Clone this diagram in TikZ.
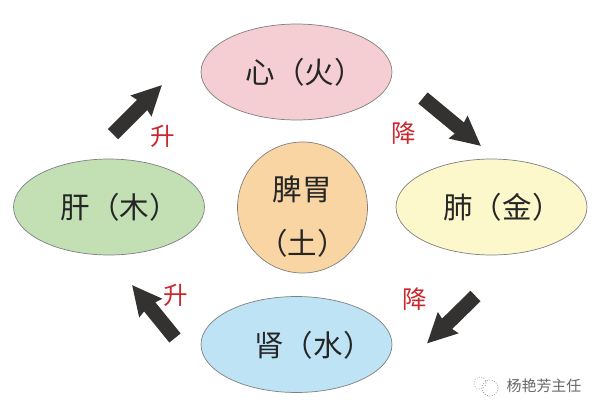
\documentclass[tikz,border=0pt]{standalone}
\usepackage{fontspec}
\usepackage{xcolor}
\setmainfont{Noto Sans CJK SC}
\usetikzlibrary{arrows.meta,shapes.geometric}
\definecolor{xinpink}{HTML}{F5CED4}
\definecolor{gangreen}{HTML}{C2E0B4}
\definecolor{piorange}{HTML}{F8D5A2}
\definecolor{feiyellow}{HTML}{FCF8CB}
\definecolor{shenblue}{HTML}{BEE3F5}
\definecolor{shengred}{HTML}{C8282E}
\definecolor{arrowdark}{HTML}{333230}
% text inside an organ: right shift, then drop
\newcommand{\organtext}[3]{\raisebox{#2}[0pt][0pt]{\makebox[0pt]{\hspace*{#1}#3}}}

\begin{document}
\begin{tikzpicture}[x=0.02cm,y=-0.02cm,
 organ/.style={ellipse,draw=black!50,line width=0.4pt,inner sep=0pt,minimum width=3.82cm,minimum height=1.92cm,font=\fontsize{16.8}{30.8}\selectfont,text=black!85},
 flow/.style={-{Stealth[length=0.58cm,width=0.56cm,inset=0.05cm]},line width=0.29cm,draw=arrowdark},
 qi/.style={text=shengred,font=\fontsize{14}{16}\selectfont,inner sep=0pt}]
 \useasboundingbox (0,0) rectangle (600,413);
 \node[organ,fill=xinpink] (xin) at (296.5,72) {\organtext{0.34cm}{-6.5pt}{心（火）}};
 \node[organ,fill=gangreen] (gan) at (109,207) {\organtext{0.44cm}{-6.8pt}{肝（木）}};
 \node[organ,fill=feiyellow] (fei) at (491.5,207) {\organtext{0.44cm}{-6.8pt}{肺（金）}};
 \node[organ,fill=shenblue] (shen) at (296.5,344.5) {\organtext{0.68cm}{-7pt}{肾（水）}};
 \node[organ,fill=piorange,minimum width=2.6cm,minimum height=2.62cm] (piwei) at (302.5,207.5) {\organtext{0pt}{-9.5pt}{\begin{tabular}[c]{@{}c@{}}脾胃\\（土）\end{tabular}}};
 \coordinate (a1) at (113,134);
 \coordinate (a2) at (162,85);
 \coordinate (b1) at (423,98);
 \coordinate (b2) at (481,146);
 \coordinate (c1) at (475.5,296);
 \coordinate (c2) at (427,343.5);
 \coordinate (d1) at (175,338);
 \coordinate (d2) at (132,285);
 \draw[flow] (a1)--(a2);
 \draw[flow] (b1)--(b2);
 \draw[flow] (c1)--(c2);
 \draw[flow] (d1)--(d2);
 \node[qi] (sheng1) at (162.5,136.5) {升};
 \node[qi] (jiang1) at (404,133.5) {降};
 \node[qi] (jiang2) at (415,299) {降};
 \node[qi] (sheng2) at (176,295) {升};
 \node[text=black!60,font=\fontsize{8.5}{10}\selectfont,inner sep=0pt] (mark) at (544,386) {杨艳芳主任};
 \draw[black!45,densely dotted,line width=0.4pt] (480,383) circle (6);
 \draw[black!45,densely dotted,line width=0.4pt] (490,388) circle (8);
\end{tikzpicture}
\end{document}
